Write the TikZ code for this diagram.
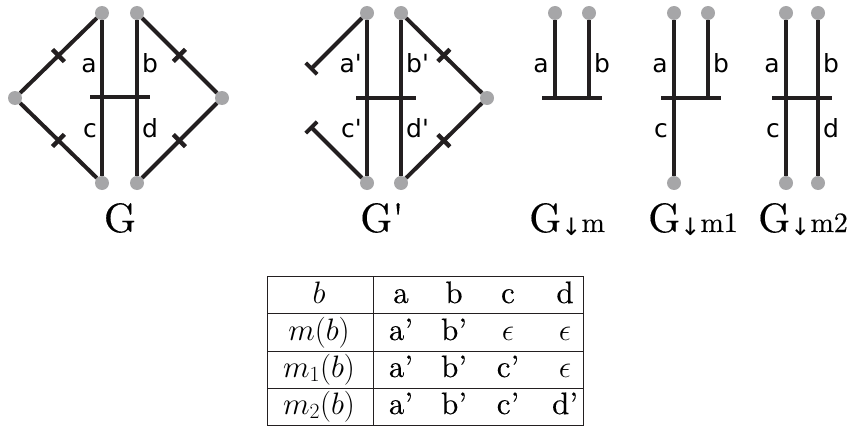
\RequirePackage{fix-cm}
\documentclass[tikz,border=0pt]{standalone}
\usepackage{fontspec}
\setmainfont{lmroman10-regular}[Extension=.otf, ItalicFont=lmroman10-italic, BoldFont=lmroman10-bold, FakeBold=0.25]
\newfontfamily\lblfont{DejaVu Sans}
\usetikzlibrary{arrows.meta,decorations.markings}
\definecolor{dotgray}{RGB}{166,166,168}
\definecolor{inkblack}{RGB}{35,31,32}
\tikzset{
  dot/.style={circle, fill=dotgray, inner sep=0pt, minimum size=14pt},
  edge/.style={draw=inkblack, line width=4pt},
  ticked/.style={edge, postaction={decorate},
    decoration={markings, mark=at position 0.5 with {\fill[inkblack] (-2.2pt,-8.5pt) rectangle (2.2pt,8.5pt);}}},
  stub/.style={edge, -{Bar[width=16pt]}},
  lblL/.style={anchor=base east, inner sep=0pt, font=\lblfont\fontsize{25}{30}\selectfont},
  lblR/.style={anchor=base west, inner sep=0pt, font=\lblfont\fontsize{25}{30}\selectfont},
  gname/.style={anchor=base, inner sep=0pt, font=\fontsize{41}{48}\selectfont},
  cell/.style={anchor=base, inner sep=0pt, font=\fontsize{31}{37}\selectfont},
}
\newcommand{\downsub}[1]{{\fontsize{28}{34}\selectfont\raisebox{-3pt}{\lblfont\fontsize{24}{30}\selectfont ↓}#1}}

\begin{document}
\begin{tikzpicture}[x=1pt, y=-1pt]
    \useasboundingbox (0,0) rectangle (850,428);

    % G
    \node[dot] (gT1) at (102,13) {};
    \node[dot] (gT2) at (137,13) {};
    \node[dot] (gL) at (15,98) {};
    \node[dot] (gR) at (222,98) {};
    \node[dot] (gB1) at (102,183) {};
    \node[dot] (gB2) at (137,183) {};
    \coordinate (gW) at (90,97);
    \coordinate (gE) at (150,97);
    \draw[edge] (gT1) -- (gB1);
    \draw[edge] (gT2) -- (gB2);
    \draw[edge] (gW) -- (gE);
    \draw[ticked] (gL) -- (gT1);
    \draw[ticked] (gL) -- (gB1);
    \draw[ticked] (gT2) -- (gR);
    \draw[ticked] (gB2) -- (gR);
    \node[lblL] (ga) at (97,72) {a};
    \node[lblR] (gb) at (142,72) {b};
    \node[lblL] (gc) at (97,137) {c};
    \node[lblR] (gd) at (142,137) {d};
    \node[gname] (nG) at (120,232) {G};

    % G'
    \node[dot] (pT1) at (367,13) {};
    \node[dot] (pT2) at (401,13) {};
    \node[dot] (pR) at (487,98) {};
    \node[dot] (pB1) at (367,183) {};
    \node[dot] (pB2) at (401,183) {};
    \coordinate (pW) at (356,98);
    \coordinate (pE) at (416,98);
    \coordinate (pS1) at (310,70);
    \coordinate (pS2) at (310,126);
    \draw[edge] (pT1) -- (pB1);
    \draw[edge] (pT2) -- (pB2);
    \draw[edge] (pW) -- (pE);
    \draw[stub] (pT1) -- (pS1);
    \draw[stub] (pB1) -- (pS2);
    \draw[ticked] (pT2) -- (pR);
    \draw[ticked] (pB2) -- (pR);
    \node[lblL] (pa) at (362,72) {a\textquotesingle};
    \node[lblR] (pb) at (406,72) {b\textquotesingle};
    \node[lblL] (pc) at (362,137) {c\textquotesingle};
    \node[lblR] (pd) at (406,137) {d\textquotesingle};
    \node[gname] (nP) at (382,232) {G\textquotesingle};

    % G_m
    \node[dot] (mT1) at (555,13) {};
    \node[dot] (mT2) at (589,13) {};
    \coordinate (mW) at (542,98);
    \coordinate (mE) at (602,98);
    \coordinate (mJ1) at (555,98);
    \coordinate (mJ2) at (589,98);
    \draw[edge] (mT1) -- (mJ1);
    \draw[edge] (mT2) -- (mJ2);
    \draw[edge] (mW) -- (mE);
    \node[lblL] (ma) at (549,72) {a};
    \node[lblR] (mb) at (594,72) {b};
    \node[gname] (nM) at (567,232) {G\downsub{m}};

    % G_m1
    \node[dot] (nT1) at (674,13) {};
    \node[dot] (nT2) at (708,13) {};
    \node[dot] (nB1) at (674,183) {};
    \coordinate (nW) at (661,98);
    \coordinate (nE) at (721,98);
    \coordinate (nJ2) at (708,98);
    \draw[edge] (nT1) -- (nB1);
    \draw[edge] (nT2) -- (nJ2);
    \draw[edge] (nW) -- (nE);
    \node[lblL] (na) at (668,72) {a};
    \node[lblR] (nb) at (713,72) {b};
    \node[lblL] (nc) at (668,137) {c};
    \node[gname] (nM1) at (693,232) {G\downsub{m1}};

    % G_m2
    \node[dot] (kT1) at (786,13) {};
    \node[dot] (kT2) at (818,13) {};
    \node[dot] (kB1) at (786,183) {};
    \node[dot] (kB2) at (818,183) {};
    \coordinate (kW) at (772,98);
    \coordinate (kE) at (832,98);
    \draw[edge] (kT1) -- (kB1);
    \draw[edge] (kT2) -- (kB2);
    \draw[edge] (kW) -- (kE);
    \node[lblL] (ka) at (780,72) {a};
    \node[lblR] (kb) at (823,72) {b};
    \node[lblL] (kc) at (780,137) {c};
    \node[lblR] (kd) at (823,137) {d};
    \node[gname] (nM2) at (803,232) {G\downsub{m2}};

    % table
    \draw[inkblack, line width=0.9pt] (267,276) rectangle (583,425);
    \draw[inkblack, line width=0.9pt] (373,276) -- (373,425);
    \foreach \y in {313,351,388}
        \draw[inkblack, line width=0.9pt] (267,\y) -- (583,\y);
    \foreach \r/\h/\va/\vb/\vc/\vd in {1/$b$/a/b/c/d,
                                        2/$m(b)$/a'/b'/$\epsilon$/$\epsilon$,
                                        3/$m_1(b)$/a'/b'/c'/$\epsilon$,
                                        4/$m_2(b)$/a'/b'/c'/d'} {
        \node[cell] (t\r h) at (319,266+37*\r) {\h};
        \node[cell] (t\r a) at (401,266+37*\r) {\va};
        \node[cell] (t\r b) at (454,266+37*\r) {\vb};
        \node[cell] (t\r c) at (508,266+37*\r) {\vc};
        \node[cell] (t\r d) at (565,266+37*\r) {\vd};
    }
\end{tikzpicture}
\end{document}
